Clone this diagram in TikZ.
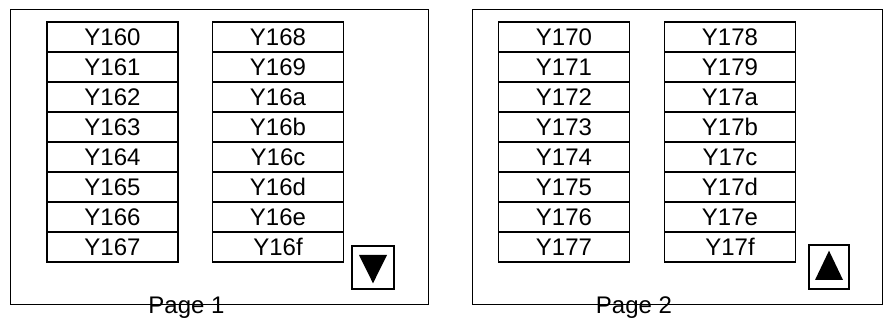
\documentclass[tikz,border=0pt]{standalone}
\usepackage{fontspec}
\setmainfont{Liberation Sans}
\begin{document}
\begin{tikzpicture}[x=1pt,y=-1pt,
  frame/.style={draw=black,line width=1pt},
  cell/.style={draw=black,line width=1.8pt,rectangle,inner sep=0pt,outer sep=0pt,
    minimum width=131pt,minimum height=30pt,font=\fontsize{24}{28}\selectfont},
  btn/.style={draw=black,line width=1.2pt,rectangle,inner sep=0pt,outer sep=0pt,
    minimum width=42pt,minimum height=43pt},
  pagelbl/.style={inner sep=0pt,anchor=base,font=\fontsize{24}{28}\selectfont}]
\useasboundingbox (0,0) rectangle (883,320);
\fill[white] (0,0) rectangle (883,320);
% page frames
\draw[frame] (10,10) rectangle (428,304);
\draw[frame] (472,10) rectangle (882,304);
% page 1 cells
\foreach \d [count=\i from 0] in {0,1,2,3,4,5,6,7}
  \node[cell] (c16\d) at (112.5,{37+30*\i}) {Y16\d};
\foreach \d [count=\i from 0] in {8,9,a,b,c,d,e,f}
  \node[cell] (c16\d) at (278,{37+30*\i}) {Y16\d};
% page 2 cells
\foreach \d [count=\i from 0] in {0,1,2,3,4,5,6,7}
  \node[cell] (c17\d) at (564,{37+30*\i}) {Y17\d};
\foreach \d [count=\i from 0] in {8,9,a,b,c,d,e,f}
  \node[cell] (c17\d) at (730,{37+30*\i}) {Y17\d};
% buttons
\node[btn] (down) at (373,267.5) {};
\node[btn,minimum width=40pt,minimum height=44pt] (up) at (829,267) {};
\fill[black] ([shift={(-14,-12.5)}]down.center) -- ([shift={(14,-12.5)}]down.center) -- ([shift={(0,15.8)}]down.center) -- cycle;
\fill[black] ([shift={(-14,13)}]up.center) -- ([shift={(14,13)}]up.center) -- ([shift={(0,-16.3)}]up.center) -- cycle;
% labels
\node[pagelbl] (p1) at (186.5,313.5) {Page 1};
\node[pagelbl] (p2) at (634,313.5) {Page 2};
\end{tikzpicture}
\end{document}
